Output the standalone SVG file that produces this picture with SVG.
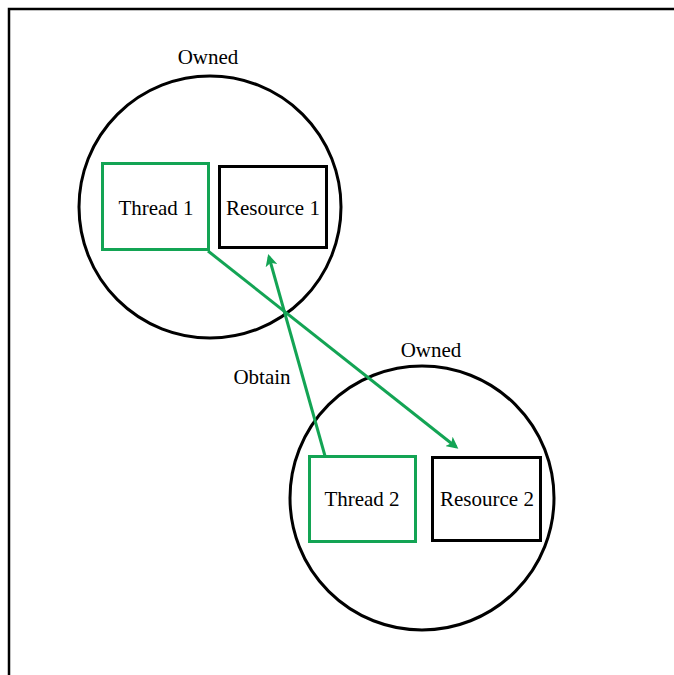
<svg xmlns="http://www.w3.org/2000/svg" width="674" height="675" viewBox="0 0 674 675">
  <style>
    .ring { fill: none; stroke: #000; stroke-width: 3; }
    .thread { fill: #fff; stroke: #13a454; stroke-width: 3; }
    .res { fill: #fff; stroke: #000; stroke-width: 3; }
    .lbl { font-family: "Liberation Serif", "Times New Roman", serif; font-size: 21px; fill: #000; text-anchor: middle; }
    .edge { fill: none; stroke: #13a454; stroke-width: 3; }
  </style>
  <defs>
    <marker id="head" markerWidth="12" markerHeight="12" refX="9" refY="6" orient="auto" markerUnits="userSpaceOnUse" viewBox="0 0 12 12">
      <path d="M0,0 L12,6 L0,12 L3,6 Z" fill="#13a454"/>
    </marker>
  </defs>
  <rect width="674" height="675" fill="#fff"/>
  <!-- frame -->
  <path d="M9,675 L9,9 L674,9" fill="none" stroke="#000" stroke-width="2.5"/>

  <g id="group1">
    <circle class="ring" cx="210" cy="207" r="131"/>
    <text class="lbl" x="208" y="64">Owned</text>
  </g>
  <g id="thread1">
    <rect class="thread" x="102.5" y="163.5" width="106" height="86"/>
    <text class="lbl" x="156" y="215">Thread 1</text>
  </g>
  <g id="resource1">
    <rect class="res" x="219.5" y="166.5" width="107" height="81"/>
    <text class="lbl" x="273" y="215">Resource 1</text>
  </g>

  <g id="group2">
    <circle class="ring" cx="422" cy="498" r="132"/>
    <text class="lbl" x="431" y="357">Owned</text>
  </g>
  <g id="thread2">
    <rect class="thread" x="309.5" y="456.5" width="106" height="85"/>
    <text class="lbl" x="362" y="506">Thread 2</text>
  </g>
  <g id="resource2">
    <rect class="res" x="432.5" y="457.5" width="108" height="83"/>
    <text class="lbl" x="487" y="506">Resource 2</text>
  </g>

  <g id="connectors">
    <line class="edge" x1="208" y1="251" x2="456" y2="447" marker-end="url(#head)"/>
    <line class="edge" x1="325" y1="456" x2="269" y2="257" marker-end="url(#head)"/>
    <text class="lbl" x="262" y="384">Obtain</text>
  </g>
</svg>
